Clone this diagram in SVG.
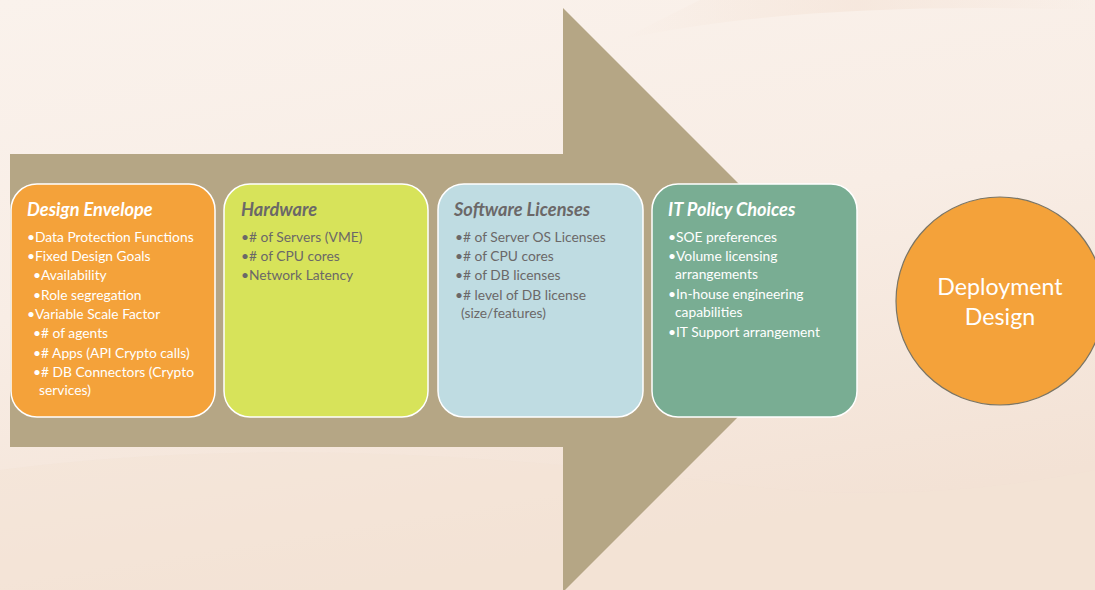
<svg xmlns="http://www.w3.org/2000/svg" width="1095" height="590" viewBox="0 0 1095 590">
<defs>
<linearGradient id="bg" x1="0" y1="0" x2="0.3" y2="1">
<stop offset="0" stop-color="#FAF2EC"/>
<stop offset="0.5" stop-color="#F8EDE5"/>
<stop offset="1" stop-color="#F3E2D5"/>
</linearGradient>
<linearGradient id="dune" x1="0" y1="0" x2="1" y2="0">
<stop offset="0" stop-color="#F3E0D2" stop-opacity="0"/>
<stop offset="0.5" stop-color="#F3E0D2" stop-opacity="0.5"/>
<stop offset="1" stop-color="#F3E0D2" stop-opacity="0"/>
</linearGradient>
<style>
.box{stroke:#FFFFFF;stroke-width:1.5}
.t{font-family:Lato,"Open Sans",sans-serif;font-size:18.2px;font-weight:bold;font-style:italic}
.i{font-family:Lato,"Open Sans",sans-serif;font-size:13.8px}
.w{fill:#FFFFFF}
.g{fill:#6B6868}
.c{font-family:Lato,"Open Sans",sans-serif;font-size:23.2px;fill:#FFFFFF;text-anchor:middle}
</style>
</defs>
<rect width="1095" height="590" fill="url(#bg)"/>
<path d="M620 40 Q800 0 1095 10 L1095 0 L700 0 Z" fill="url(#dune)"/>
<path d="M0 470 Q300 430 700 480 Q900 510 1095 470 L1095 590 L0 590 Z" fill="#F4E3D6" opacity="0.5"/>
<g id="arrow">
<polygon points="10,154 563,154 563,8 855,300 563,592 563,447 10,447" fill="#B5A685"/>
</g>
<g id="connectors"></g>
<g id="design-envelope">
<rect class="box" x="11" y="184" width="204" height="233" rx="26" fill="#F4A23A"/>
<text class="t w" x="27" y="216">Design Envelope</text>
<g class="i w">
<text x="27" y="242">•Data Protection Functions</text>
<text x="27" y="261">•Fixed Design Goals</text>
<text x="33" y="280">•Availability</text>
<text x="33" y="300">•Role segregation</text>
<text x="27" y="319">•Variable Scale Factor</text>
<text x="33" y="338">•# of agents</text>
<text x="33" y="358">•# Apps (API Crypto calls)</text>
<text x="33" y="377">•# DB Connectors (Crypto</text>
<text x="39" y="395">services)</text>
</g>
</g>
<g id="hardware">
<rect class="box" x="224" y="184" width="204" height="233" rx="26" fill="#D7E35A"/>
<text class="t g" x="241" y="216">Hardware</text>
<g class="i g">
<text x="241" y="242">•# of Servers (VME)</text>
<text x="241" y="261">•# of CPU cores</text>
<text x="241" y="280">•Network Latency</text>
</g>
</g>
<g id="software-licenses">
<rect class="box" x="438" y="184" width="205" height="233" rx="26" fill="#BFDCE2"/>
<text class="t g" x="454" y="216">Software Licenses</text>
<g class="i g">
<text x="455" y="242">•# of Server OS Licenses</text>
<text x="455" y="261">•# of CPU cores</text>
<text x="455" y="280">•# of DB licenses</text>
<text x="455" y="300">•# level of DB license</text>
<text x="461" y="318">(size/features)</text>
</g>
</g>
<g id="it-policy">
<rect class="box" x="652" y="184" width="205" height="233" rx="26" fill="#79AD93"/>
<text class="t w" x="668" y="216">IT Policy Choices</text>
<g class="i w">
<text x="668" y="242">•SOE preferences</text>
<text x="668" y="261">•Volume licensing</text>
<text x="675" y="279">arrangements</text>
<text x="668" y="299">•In-house engineering</text>
<text x="675" y="317">capabilities</text>
<text x="668" y="337">•IT Support arrangement</text>
</g>
</g>
<g id="deployment-design">
<circle cx="1000" cy="301" r="104" fill="#F4A23A" stroke="#7A7565" stroke-width="1.2"/>
<text class="c" x="1000" y="295">Deployment</text>
<text class="c" x="1000" y="325">Design</text>
</g>
</svg>
